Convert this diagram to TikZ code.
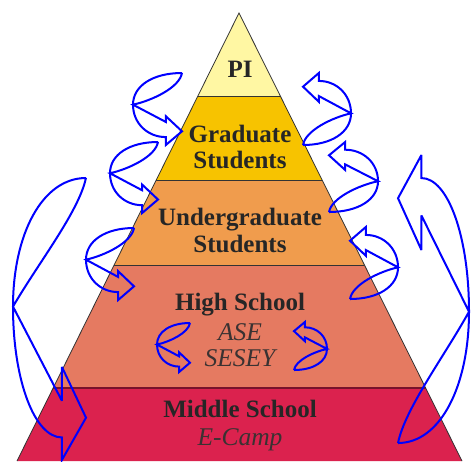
\documentclass[tikz,border=0pt]{standalone}
\usepackage{fontspec}
\setmainfont{Liberation Serif}
\usepackage{tikz}
\usetikzlibrary{calc}

\definecolor{piyellow}{HTML}{FFF7A3}
\definecolor{gradgold}{HTML}{F7C300}
\definecolor{ugorange}{HTML}{F09C4D}
\definecolor{hssalmon}{HTML}{E57A61}
\definecolor{mscrimson}{HTML}{DB224E}
\definecolor{loopblue}{HTML}{0000FF}
\definecolor{inkgray}{HTML}{262626}
\definecolor{proggray}{HTML}{3A3232}

\tikzset{
  lvl/.style={font=\fontsize{25}{30}\selectfont\bfseries, text=inkgray, anchor=base, inner sep=0pt},
  prog/.style={font=\fontsize{25.5}{30}\selectfont\itshape, text=proggray, anchor=base, inner sep=0pt},
  layerline/.style={draw=black!80, line width=0.8pt},
  bluearrow/.style={draw=loopblue, line width=2pt, line join=miter, miter limit=4},
  % curved block arrow, unit box: tail at (1,0), cusp at (0,.44)
  pics/uturn/.style={code={
    \draw[bluearrow] (1,0) .. controls (0.4,0) and (0,0.18) .. (0,0.44)
      .. controls (0,0.7) and (0.3,0.89) .. (0.67,0.89)
      -- (0.67,1) -- (1,0.81) -- (0.67,0.6) -- (0.67,0.68) -- (0,0.44)
      .. controls (0.4,0.38) and (0.95,0.2) .. cycle;
  }},
  % the tall one
  pics/longturn/.style={code={
    \draw[bluearrow] (1,0) .. controls (0.4,0) and (0,0.2) .. (0,0.456)
      .. controls (0,0.72) and (0.3,0.92) .. (0.67,0.92)
      -- (0.67,1) -- (1,0.85) -- (0.67,0.67) -- (0.67,0.79) -- (0,0.456)
      .. controls (0.35,0.3) and (0.9,0.12) .. cycle;
  }}
}

\begin{document}
\begin{tikzpicture}[x=1pt, y=-1pt]
  \useasboundingbox (0,0) rectangle (473,461);

  % pyramid
  \coordinate (apex) at (239,13);
  \coordinate (bl) at (17,461);
  \coordinate (br) at (462,461);
  \foreach \t [count=\i] in {0.1853,0.3728,0.5625,0.8371} {
    \coordinate (l\i) at ($(apex)!\t!(bl)$);
    \coordinate (r\i) at ($(apex)!\t!(br)$);
  }
  \fill[piyellow] (apex) -- (l1) -- (r1) -- cycle;
  \fill[gradgold] (l1) -- (l2) -- (r2) -- (r1) -- cycle;
  \fill[ugorange] (l2) -- (l3) -- (r3) -- (r2) -- cycle;
  \fill[hssalmon] (l3) -- (l4) -- (r4) -- (r3) -- cycle;
  \fill[mscrimson] (l4) -- (bl) -- (br) -- (r4) -- cycle;
  \draw[layerline] (l1) -- (r1);
  \draw[layerline] (l2) -- (r2);
  \draw[layerline] (l3) -- (r3);
  \draw[mscrimson!55!black, line width=1.5pt] (l4) -- (r4);
  \draw[layerline] (bl) -- (apex) -- (br);

  % levels
  \node[lvl] (pi) at (240,77) {PI};
  \node[lvl] (grad1) at (240,142) {Graduate};
  \node[lvl] (grad2) at (240,168) {Students};
  \node[lvl] (ug1) at (240,225) {Undergraduate};
  \node[lvl] (ug2) at (240,252) {Students};
  \node[lvl] (hs) at (240,310) {High School};
  \node[prog] (ase) at (240,340) {ASE};
  \node[prog] (sesey) at (240,366) {SESEY};
  \node[lvl] (ms) at (240,417) {Middle School};
  \node[prog] (ecamp) at (240,445) {E-Camp};

  % left side, going down
  \pic[xscale=49, yscale=72] at (133,73) {uturn};
  \pic[xscale=48, yscale=71] at (110,142) {uturn};
  \pic[xscale=48, yscale=72] at (86,228) {uturn};
  \pic[xscale=33, yscale=49] at (157,323) {uturn};
  \pic[xscale=73, yscale=282] at (13,178) {longturn};

  % right side, going up
  \pic[xscale=-48, yscale=-72] at (351,145) {uturn};
  \pic[xscale=-49, yscale=-70] at (378,212) {uturn};
  \pic[xscale=-48, yscale=-72] at (398,299) {uturn};
  \pic[xscale=-33, yscale=-48] at (327,370) {uturn};
  \pic[xscale=-71, yscale=-288] at (469,443) {longturn};
\end{tikzpicture}
\end{document}
